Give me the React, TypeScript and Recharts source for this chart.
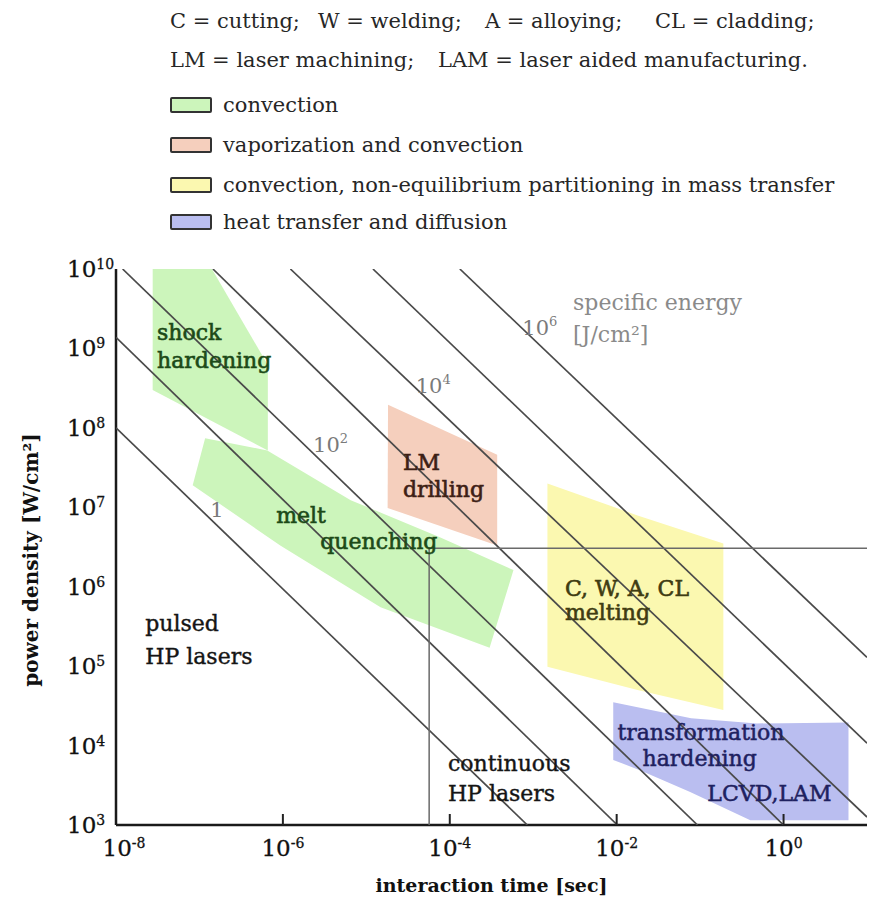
import React from 'react';
import { ComposedChart, Scatter, XAxis, YAxis } from 'recharts';

const FONT = '"DejaVu Serif", serif';

// axis decades
const timeTicks = [1e-8, 1e-6, 1e-4, 1e-2, 1];
const timeTickExp = ['-8', '-6', '-4', '-2', '0'];
const powerTicks = [1e3, 1e4, 1e5, 1e6, 1e7, 1e8, 1e9, 1e10];
const powerTickExp = ['3', '4', '5', '6', '7', '8', '9', '10'];

// header text
const legendRow1 = ['C = cutting;', 'W = welding;', 'A = alloying;', 'CL = cladding;'];
const legendRow2 = ['LM = laser machining;', 'LAM = laser aided manufacturing.'];
const regionNames = [
  'convection',
  'vaporization and convection',
  'convection, non-equilibrium partitioning in mass transfer',
  'heat transfer and diffusion',
];
const regionColors = ['#ccf5bb', '#f5cfbd', '#fbf8b0', '#babef0'];

// process regions (t in sec, p in W/cm2)
const shockHardening = [
  { t: 2.75e-8, p: 1e10 }, { t: 1.41e-7, p: 1e10 }, { t: 6.6e-7, p: 6.2e8 },
  { t: 6.6e-7, p: 5.2e7 }, { t: 2.75e-8, p: 3.0e8 },
];
const meltQuenching = [
  { t: 1.17e-7, p: 7.4e7 }, { t: 6.5e-7, p: 5.2e7 }, { t: 6.5e-6, p: 1.23e7 },
  { t: 7.6e-5, p: 4.2e6 }, { t: 5.8e-4, p: 1.62e6 }, { t: 3.0e-4, p: 1.7e5 },
  { t: 1.48e-5, p: 5.5e5 }, { t: 9.3e-7, p: 3.3e6 }, { t: 8.3e-8, p: 1.9e7 },
];
const lmDrilling = [
  { t: 1.82e-5, p: 1.95e8 }, { t: 3.7e-4, p: 4.6e7 }, { t: 3.7e-4, p: 3.3e6 }, { t: 1.8e-5, p: 9.8e6 },
];
const meltingZone = [
  { t: 1.48e-3, p: 2.0e7 }, { t: 1.78e-2, p: 7.9e6 }, { t: 0.19, p: 3.5e6 },
  { t: 0.19, p: 2.8e4 }, { t: 1.78e-2, p: 5.0e4 }, { t: 1.48e-3, p: 9.8e4 },
];
const hardeningZone = [
  { t: 9.1e-3, p: 3.5e4 }, { t: 7.8e-2, p: 2.2e4 }, { t: 0.48, p: 1.9e4 }, { t: 6.0, p: 1.95e4 },
  { t: 6.0, p: 1.15e3 }, { t: 0.4, p: 1.15e3 }, { t: 7.6e-2, p: 2.6e3 }, { t: 1.9e-2, p: 4.9e3 },
  { t: 9.1e-3, p: 6.6e3 },
];
const regions = [
  { key: 'shock', pts: shockHardening, kind: 0 },
  { key: 'melt', pts: meltQuenching, kind: 0 },
  { key: 'lm', pts: lmDrilling, kind: 1 },
  { key: 'cwa', pts: meltingZone, kind: 2 },
  { key: 'tr', pts: hardeningZone, kind: 3 },
];

// constant specific energy lines 1 ... 1e6 J/cm2
const energyLines = [
  [{ t: 1e-8, p: 1e8 }, { t: 8.5e-4, p: 1e3 }],
  [{ t: 1e-8, p: 1.38e9 }, { t: 1.02e-2, p: 1e3 }],
  [{ t: 1.2e-8, p: 1e10 }, { t: 9.3e-2, p: 1e3 }],
  [{ t: 1.45e-7, p: 1e10 }, { t: 1.0, p: 1e3 }],
  [{ t: 1.23e-6, p: 1e10 }, { t: 10, p: 1.26e3 }],
  [{ t: 1.2e-5, p: 1e10 }, { t: 10, p: 1.07e4 }],
  [{ t: 1.32e-4, p: 1e10 }, { t: 10, p: 1.29e5 }],
];
// boundary between pulsed and continuous lasers
const laserBoundary = [{ t: 5.66e-5, p: 1e3 }, { t: 5.66e-5, p: 3.06e6 }, { t: 10, p: 3.06e6 }];

// energy labels
const energyLabelBase = ['1', '10', '10', '10'];
const energyLabelExp = ['', '2', '4', '6'];
const energyLabelT = [1.35e-7, 2.3e-6, 3.9e-5, 7.4e-4];
const energyLabelP = [7.6e6, 5.0e7, 2.75e8, 1.47e9];

// text notes
const noteText = [
  ['shock', 'hardening'],
  ['melt'],
  ['quenching'],
  ['LM', 'drilling'],
  ['C, W, A, CL', 'melting'],
  ['transformation'],
  ['hardening'],
  ['LCVD,LAM'],
  ['pulsed', 'HP lasers'],
  ['continuous', 'HP lasers'],
  ['specific energy', '[J/cm\u00b2]'],
];
const noteT = [3.1e-8, 8.3e-7, 2.8e-6, 2.75e-5, 2.4e-3, 1.02e-2, 2.04e-2, 0.122, 2.24e-8, 9.5e-5, 3.0e-3];
const noteP = [1.28e9, 6.3e6, 2.95e6, 2.95e7, 7.6e5, 1.17e4, 5.6e3, 2.0e3, 2.8e5, 4.8e3, 3.03e9];
const noteStyle = [
  { color: '#1c4a18', gap: 28, bold: 0.6 },
  { color: '#1c4a18', gap: 0, bold: 0.6 },
  { color: '#1c4a18', gap: 0, bold: 0.6 },
  { color: '#3d2015', gap: 27, bold: 0.6 },
  { color: '#3f3c12', gap: 24, bold: 0.6 },
  { color: '#1e2160', gap: 0, bold: 0.5 },
  { color: '#1e2160', gap: 0, bold: 0.5 },
  { color: '#1e2160', gap: 0, bold: 0.5 },
  { color: '#151515', gap: 33, bold: 0.4 },
  { color: '#151515', gap: 30, bold: 0.4 },
  { color: '#8a8a8a', gap: 32, bold: 0 },
];

const notes = noteText.map((text, i) => ({ t: noteT[i], p: noteP[i], text, i }));
const energyLabels = energyLabelBase.map((base, i) => ({
  t: energyLabelT[i], p: energyLabelP[i], base, exp: energyLabelExp[i],
}));

const Empty = () => <g />;

const polygonLine = (fill: string) => (props: any) => (
  <polygon points={(props.points || []).map((q: any) => `${q.x},${q.y}`).join(' ')} fill={fill} stroke="none" />
);

const NoteMark = (props: any) => {
  const { cx, cy, payload } = props;
  const st = noteStyle[payload.i];
  return (
    <text
      x={cx} y={cy} fontFamily={FONT} fontSize={22} fill={st.color}
      stroke={st.bold ? st.color : 'none'} strokeWidth={st.bold}
    >
      {payload.text.map((line: string, k: number) => (
        <tspan key={k} x={cx} dy={k === 0 ? 0 : st.gap}>{line}</tspan>
      ))}
    </text>
  );
};

const EnergyMark = (props: any) => {
  const { cx, cy, payload } = props;
  return (
    <text x={cx} y={cy} fontFamily={FONT} fontSize={21} fill="#7a7a7a">
      <tspan>{payload.base}</tspan>
      {payload.exp && <tspan dy={-9} fontSize={13}>{payload.exp}</tspan>}
    </text>
  );
};

const TimeTick = (props: any) => {
  const { x, y, payload } = props;
  const i = timeTicks.indexOf(payload.value);
  return (
    <g>
      {i > 0 && <line x1={x} y1={y} x2={x} y2={y - 11} stroke="#222" strokeWidth={2} />}
      <text
        x={x + (i === 0 ? 8 : 0)} y={y + 31} textAnchor="middle" fontFamily={FONT} fontSize={23}
        fill="#111" stroke="#111" strokeWidth={0.3}
      >
        <tspan>10</tspan>
        <tspan dy={-8} fontSize={14}>{timeTickExp[i]}</tspan>
      </text>
    </g>
  );
};

const TopTick = (props: any) => {
  const { x, y, payload } = props;
  if (payload.value <= 1e-8) return <g />;
  return <line x1={x} y1={y} x2={x} y2={y + 11} stroke="#222" strokeWidth={2} />;
};

const PowerTick = (props: any) => {
  const { x, y, payload } = props;
  const i = powerTicks.indexOf(payload.value);
  return (
    <text x={x - 49} y={y + 8} fontFamily={FONT} fontSize={23} fill="#111" stroke="#111" strokeWidth={0.3}>
      <tspan>10</tspan>
      <tspan dy={-8} fontSize={14}>{powerTickExp[i]}</tspan>
    </text>
  );
};

const XTitle = (props: any) => {
  const vb = props.viewBox;
  return (
    <text x={vb.x + vb.width / 2} y={vb.y + 67} textAnchor="middle" fontFamily={FONT} fontWeight="bold" fontSize={19} fill="#111">
      interaction time [sec]
    </text>
  );
};

const YTitle = (props: any) => {
  const vb = props.viewBox;
  const x = vb.x + 38;
  const y = vb.y + vb.height / 2 + 13;
  return (
    <text x={x} y={y} transform={`rotate(-90, ${x}, ${y})`} textAnchor="middle" fontFamily={FONT} fontWeight="bold" fontSize={20} fill="#111">
      power density [W/cm{'\u00b2'}]
    </text>
  );
};

const axisLine = { stroke: '#1a1a1a', strokeWidth: 2.5 };

// left edges of the header phrases
const row1Left = [170, 318, 485, 655];
const row2Left = [170, 438];

const Header = () => {
  const text: React.CSSProperties = { position: 'absolute', fontFamily: FONT, fontSize: 21, lineHeight: '24px', color: '#262626', whiteSpace: 'nowrap' };
  const rowBase = [112, 152, 192, 229];
  return (
    <div style={{ position: 'absolute', left: 0, top: 0, width: 869, height: 250 }}>
      {legendRow1.map((s, i) => <div key={s} style={{ ...text, left: row1Left[i], top: 9 }}>{s}</div>)}
      {legendRow2.map((s, i) => <div key={s} style={{ ...text, left: row2Left[i], top: 48 }}>{s}</div>)}
      {regionNames.map((name, i) => (
        <React.Fragment key={name}>
          <div style={{
            position: 'absolute', left: 170, top: rowBase[i] - 15, width: 42, height: 16, boxSizing: 'border-box',
            border: '2px solid #333', borderRadius: 2, background: regionColors[i],
          }} />
          <div style={{ ...text, left: 223, top: rowBase[i] - 19 }}>{name}</div>
        </React.Fragment>
      ))}
    </div>
  );
};

export default function App() {
  return (
    <div style={{ position: 'absolute', left: 0, top: 0, width: 869, height: 903, background: '#fff' }}>
      <Header />
      <div style={{ position: 'absolute', left: 0, top: 0 }}>
        <ComposedChart width={869} height={903} margin={{ top: 269, right: 2, bottom: 8, left: 0 }}>
          <XAxis
            dataKey="t" type="number" scale="log" domain={[1e-8, 10]} ticks={timeTicks} allowDataOverflow
            height={70} tickSize={0} tickMargin={0} tickLine={false} axisLine={axisLine}
            tick={<TimeTick />} interval={0} label={<XTitle />}
          />
          <XAxis
            xAxisId="top" orientation="top" type="number" scale="log" domain={[1e-8, 10]} ticks={timeTicks}
            allowDataOverflow height={0} tickSize={0} tickMargin={0} tickLine={false} axisLine={axisLine}
            tick={<TopTick />} interval={0}
          />
          <YAxis
            dataKey="p" type="number" scale="log" domain={[1e3, 1e10]} ticks={powerTicks} allowDataOverflow
            width={116} tickSize={0} tickMargin={0} tickLine={false} axisLine={axisLine}
            tick={<PowerTick />} interval={0} label={<YTitle />}
          />
          <YAxis
            yAxisId="right" orientation="right" type="number" scale="log" domain={[1e3, 1e10]}
            allowDataOverflow width={0} tick={false} tickLine={false} axisLine={axisLine}
          />
          {regions.map((r) => (
            <Scatter
              key={r.key} data={r.pts} line={polygonLine(regionColors[r.kind])} shape={<Empty />}
              isAnimationActive={false} legendType="none"
            />
          ))}
          {energyLines.map((pts, i) => (
            <Scatter
              key={`e${i}`} data={pts} line={{ stroke: '#4a4a4a', strokeWidth: 1.7 }} shape={<Empty />}
              isAnimationActive={false} legendType="none"
            />
          ))}
          <Scatter
            data={laserBoundary} line={{ stroke: '#6a6a6a', strokeWidth: 1.5 }} shape={<Empty />}
            isAnimationActive={false} legendType="none"
          />
          <Scatter data={energyLabels} shape={<EnergyMark />} isAnimationActive={false} legendType="none" />
          <Scatter data={notes} shape={<NoteMark />} isAnimationActive={false} legendType="none" />
        </ComposedChart>
      </div>
    </div>
  );
}
